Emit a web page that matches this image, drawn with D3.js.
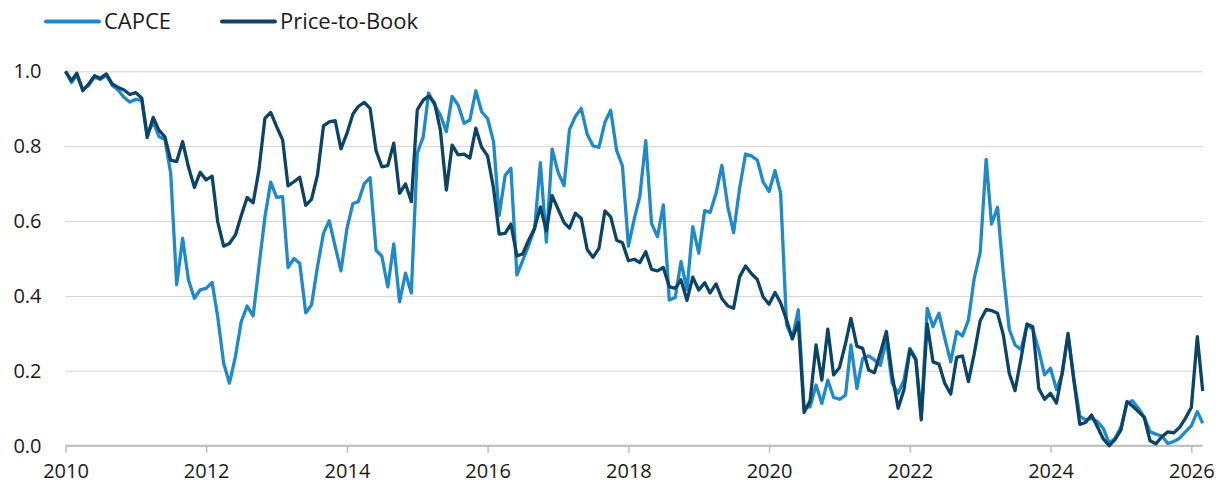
<!DOCTYPE html>
<html>
<head>
<meta charset="utf-8">
<script src="https://cdn.jsdelivr.net/npm/d3@7"></script>
<style>
  body { margin: 0; background: #fff; }
  svg text { font-family: "Open Sans", "Noto Sans", sans-serif; fill: #1a1a1a; }
</style>
</head>
<body>
<div id="chart"></div>
<script>
// monthly observations, Jan 2010 .. Mar 2026
const startMonth = new Date(2010, 0, 1);
const endMonth = new Date(2026, 2, 1);

const capce = [
  1.0, 0.97, 0.99, 0.952, 0.962, 0.985, 0.978, 0.99, 0.962, 0.95, 0.93, 0.918,
  0.925, 0.922, 0.83, 0.865, 0.826, 0.818, 0.728, 0.43, 0.554, 0.443, 0.394, 0.416,
  0.42, 0.436, 0.345, 0.22, 0.167, 0.238, 0.331, 0.373, 0.347, 0.478, 0.61, 0.704,
  0.663, 0.665, 0.476, 0.5, 0.487, 0.355, 0.376, 0.478, 0.567, 0.601, 0.532, 0.467,
  0.58, 0.647, 0.652, 0.7, 0.716, 0.522, 0.506, 0.424, 0.539, 0.384, 0.461, 0.408,
  0.781, 0.825, 0.942, 0.91, 0.883, 0.839, 0.933, 0.91, 0.861, 0.87, 0.948, 0.892,
  0.874, 0.812, 0.615, 0.722, 0.741, 0.456, 0.494, 0.535, 0.58, 0.756, 0.544, 0.792,
  0.73, 0.695, 0.844, 0.88, 0.901, 0.832, 0.801, 0.797, 0.864, 0.896, 0.788, 0.747,
  0.533, 0.607, 0.665, 0.815, 0.594, 0.558, 0.643, 0.389, 0.396, 0.492, 0.416, 0.585,
  0.514, 0.628, 0.623, 0.674, 0.749, 0.638, 0.569, 0.687, 0.779, 0.774, 0.763, 0.705,
  0.679, 0.735, 0.674, 0.323, 0.288, 0.363, 0.1, 0.104, 0.162, 0.113, 0.175, 0.129,
  0.124, 0.135, 0.269, 0.153, 0.233, 0.24, 0.229, 0.215, 0.282, 0.167, 0.14, 0.175,
  0.26, 0.233, 0.08, 0.367, 0.318, 0.354, 0.287, 0.224, 0.305, 0.293, 0.336, 0.447,
  0.516, 0.765, 0.592, 0.637, 0.46, 0.311, 0.269, 0.257, 0.322, 0.311, 0.256, 0.189,
  0.207, 0.15, 0.19, 0.295, 0.18, 0.079, 0.069, 0.073, 0.064, 0.046, 0.006, 0.02,
  0.05, 0.113, 0.12, 0.1, 0.077, 0.037, 0.031, 0.026, 0.006, 0.011, 0.02, 0.037,
  0.053, 0.091, 0.06
];

const priceToBook = [
  1.0, 0.975, 0.995, 0.948, 0.966, 0.988, 0.981, 0.993, 0.966, 0.957, 0.95, 0.938,
  0.943, 0.928, 0.823, 0.877, 0.843, 0.825, 0.763, 0.759, 0.812, 0.745, 0.69, 0.73,
  0.71, 0.72, 0.598, 0.533, 0.54, 0.563, 0.614, 0.663, 0.649, 0.736, 0.874, 0.89,
  0.852, 0.817, 0.694, 0.705, 0.717, 0.642, 0.658, 0.723, 0.854, 0.865, 0.868, 0.793,
  0.834, 0.886, 0.906, 0.917, 0.901, 0.788, 0.745, 0.748, 0.808, 0.674, 0.699, 0.652,
  0.897, 0.923, 0.934, 0.915, 0.843, 0.683, 0.803, 0.777, 0.779, 0.768, 0.848, 0.797,
  0.774, 0.687, 0.565, 0.567, 0.592, 0.507, 0.512, 0.549, 0.581, 0.638, 0.574, 0.668,
  0.632, 0.596, 0.581, 0.621, 0.607, 0.524, 0.503, 0.527, 0.627, 0.611, 0.549, 0.542,
  0.494, 0.498, 0.489, 0.518, 0.471, 0.467, 0.476, 0.425, 0.42, 0.443, 0.388, 0.45,
  0.416, 0.435, 0.408, 0.432, 0.393, 0.373, 0.367, 0.451, 0.48, 0.46, 0.444, 0.398,
  0.378, 0.409, 0.382, 0.336, 0.285, 0.329, 0.089, 0.12, 0.269, 0.175, 0.311, 0.189,
  0.209, 0.273, 0.34, 0.266, 0.26, 0.202, 0.195, 0.248, 0.305, 0.189, 0.1, 0.149,
  0.256, 0.229, 0.069, 0.325, 0.224, 0.218, 0.167, 0.138, 0.236, 0.24, 0.171, 0.246,
  0.334, 0.364, 0.361, 0.354, 0.296, 0.193, 0.147, 0.233, 0.325, 0.318, 0.153, 0.124,
  0.14, 0.114, 0.193, 0.3, 0.175, 0.057, 0.062, 0.082, 0.05, 0.018, 0.0, 0.016,
  0.042, 0.118, 0.106, 0.091, 0.076, 0.013, 0.005, 0.024, 0.037, 0.034, 0.049, 0.073,
  0.102, 0.291, 0.146
];

const yTicks = [0, 0.2, 0.4, 0.6, 0.8, 1.0];
const xTickYears = [2010, 2012, 2014, 2016, 2018, 2020, 2022, 2024, 2026];

const seriesNames = ["CAPCE", "Price-to-Book"];
const seriesColors = ["#2089c9", "#0c4467"];

const months = d3.timeMonth.range(startMonth, d3.timeMonth.offset(endMonth, 1));

const W = 1231, H = 488;
const margin = { top: 71.3, right: 28.3, bottom: 42.3, left: 65.5 };
const width = W - margin.left - margin.right;
const height = H - margin.top - margin.bottom;

const svg = d3.select("#chart")
  .append("svg")
  .attr("width", W)
  .attr("height", H);

const g = svg.append("g")
  .attr("transform", `translate(${margin.left},${margin.top})`);

const x = d3.scaleTime()
  .domain([startMonth, endMonth])
  .range([0, width]);

const y = d3.scaleLinear()
  .domain([0, 1])
  .range([height, 0]);

// gridlines + y labels
const yAxis = d3.axisLeft(y)
  .tickValues(yTicks)
  .tickFormat(d3.format(".1f"))
  .tickSize(-width)
  .tickPadding(24);

g.append("g")
  .call(yAxis)
  .call(s => s.select(".domain").remove())
  .call(s => s.selectAll(".tick line").attr("stroke", "#d4d4d4").attr("stroke-width", 1))
  .call(s => s.selectAll(".tick text").attr("font-size", 20).attr("fill", "#1a1a1a"));

// x axis
const xAxis = d3.axisBottom(x)
  .tickValues(xTickYears.map(yr => new Date(yr, 0, 1)))
  .tickFormat(d3.timeFormat("%Y"))
  .tickSize(7)
  .tickPadding(11);

g.append("g")
  .attr("transform", `translate(0,${height})`)
  .call(xAxis)
  .call(s => s.select(".domain").attr("stroke", "#bcbcbc").attr("stroke-width", 2).attr("d", `M0,0H${width}`))
  .call(s => s.selectAll(".tick line").attr("stroke", "#bcbcbc").attr("stroke-width", 1.5))
  .call(s => s.selectAll(".tick text").attr("font-size", 20).attr("fill", "#1a1a1a"));

const line = d3.line()
  .x((d, i) => x(months[i]))
  .y(d => y(d));

[capce, priceToBook].forEach((vals, k) => {
  g.append("path")
    .datum(vals)
    .attr("fill", "none")
    .attr("stroke", seriesColors[k])
    .attr("stroke-width", 3.3)
    .attr("stroke-linejoin", "round")
    .attr("d", line);
});

// legend
const legend = svg.append("g").attr("transform", "translate(46,21.5)");
const legendX = [0, 176];
seriesNames.forEach((name, k) => {
  const item = legend.append("g").attr("transform", `translate(${legendX[k]},0)`);
  item.append("line")
    .attr("x1", 0).attr("x2", 53)
    .attr("stroke", seriesColors[k])
    .attr("stroke-width", 4)
    .attr("stroke-linecap", "round");
  item.append("text")
    .attr("x", 58)
    .attr("dy", "0.35em")
    .attr("font-size", 22)
    .text(name);
});
</script>
</body>
</html>
